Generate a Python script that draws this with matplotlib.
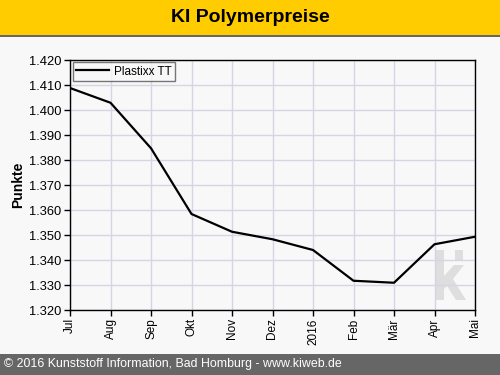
import matplotlib
matplotlib.use("Agg")
import matplotlib.pyplot as plt
from matplotlib.patches import Rectangle, Polygon
from matplotlib.ticker import FuncFormatter

plt.rcParams['font.family'] = ['Liberation Sans', 'DejaVu Sans']

months = ["Jul", "Aug", "Sep", "Okt", "Nov", "Dez", "2016", "Feb", "Mär", "Apr", "Mai"]
plastixx_tt = [1408.8, 1402.9, 1384.7, 1358.4, 1351.3, 1348.3, 1344.0, 1331.7, 1330.9, 1346.3, 1349.3]
series_name = "Plastixx TT"
title = "KI Polymerpreise"
y_label = "Punkte"
footer = "© 2016 Kunststoff Information, Bad Homburg - www.kiweb.de"
y_ticks = [1320, 1330, 1340, 1350, 1360, 1370, 1380, 1390, 1400, 1410, 1420]

bg = "#f8f8f8"
W, H = 500, 375
fig = plt.figure(figsize=(5, 3.75), dpi=100, facecolor=bg)

# header band
fig.patches.append(Rectangle((0, 1 - 35/H), 1, 35/H, transform=fig.transFigure,
                             facecolor="#ffcc00", edgecolor="none", zorder=0))
fig.patches.append(Rectangle((0, 1 - 37/H), 1, 2/H, transform=fig.transFigure,
                             facecolor="#666666", edgecolor="none", zorder=0))
fig.text(0.5, 1 - 18/H, title, ha="center", va="center", fontsize=14,
         fontweight="bold", color="black")

# footer band
fig.patches.append(Rectangle((0, 0), 1, 21/H, transform=fig.transFigure,
                             facecolor="#666666", edgecolor="none", zorder=0))
fig.text(4/W, 10.5/H, footer, ha="left", va="center", fontsize=8.9, color="white")

AX_L, AX_T, AX_R, AX_B = 70, 60, 475, 310
ax = fig.add_axes([AX_L/W, (H - AX_B)/H, (AX_R - AX_L)/W, (AX_B - AX_T)/H])
ax.set_facecolor(bg)
x = list(range(len(months)))
ax.plot(x, plastixx_tt, color="black", linewidth=1.6, label=series_name, zorder=3)

ax.set_xlim(0, len(months) - 1)
ax.set_ylim(1320, 1420)
ax.set_xticks(x)
ax.set_xticklabels(months, rotation=90, fontsize=8.5)
ax.set_yticks(y_ticks)
ax.yaxis.set_major_formatter(FuncFormatter(lambda v, p: f"{v/1000:.3f}"))
ax.tick_params(axis="y", labelsize=9.3, length=4, width=1, pad=2)
ax.tick_params(axis="x", length=4, width=1, pad=2)
ax.grid(True, color="#d8d4e4", linewidth=1, zorder=0)
for s in ax.spines.values():
    s.set_color("black")
    s.set_linewidth(1)

ax.set_ylabel(y_label, fontsize=10, fontweight="bold")
ax.yaxis.set_label_coords(-(AX_L - 25)/(AX_R - AX_L), 0.5)

leg = ax.legend(loc="upper left", fontsize=8.5, frameon=True, fancybox=False,
                borderpad=0.3, handlelength=2.8, handletextpad=0.4,
                bbox_to_anchor=(0.007, 0.992), borderaxespad=0.0)
leg.get_frame().set_edgecolor("#555555")
leg.get_frame().set_facecolor(bg)
leg.get_frame().set_linewidth(1)

# watermark "k" logo (decoration, in pixel-derived axes fractions)
def px(xp, yp):
    return ((xp - AX_L)/(AX_R - AX_L), (AX_B - yp)/(AX_B - AX_T))

wm = "#dedede"
stem = Polygon([px(436, 250), px(444, 250), px(444, 300), px(436, 300)], closed=True,
               transform=ax.transAxes, facecolor=wm, edgecolor="none", zorder=1)
dot = Polygon([px(455, 250), px(463, 250), px(463, 260), px(455, 260)], closed=True,
              transform=ax.transAxes, facecolor=wm, edgecolor="none", zorder=1)
arms = Polygon([px(444, 276), px(454, 265), px(464, 265), px(453, 279), px(466, 300),
                px(456, 300), px(447, 286), px(444, 289)], closed=True,
               transform=ax.transAxes, facecolor=wm, edgecolor="none", zorder=1)
for p in (stem, dot, arms):
    ax.add_patch(p)

fig.savefig("out.png", dpi=100, facecolor=bg)
